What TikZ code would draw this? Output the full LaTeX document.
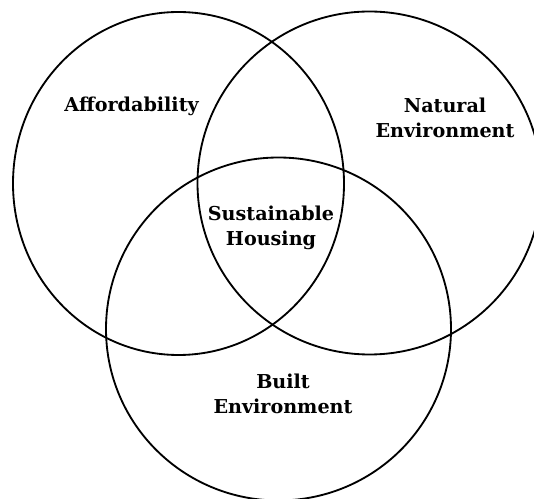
\documentclass[tikz,border=0pt]{standalone}
\usepackage{fontspec}
\setmainfont{DejaVu Serif}
\usetikzlibrary{calc}

\begin{document}
\begin{tikzpicture}[line cap=round,line join=round,x=0.02cm,y=-0.02cm]
    \useasboundingbox (0,0) rectangle (534,499);
    \clip (0,0) rectangle (534,499);

    \tikzset{
        ring/.style={draw=black, line width=1.05pt},
        lbl/.style={align=center, font=\fontsize{10.9}{14.2}\selectfont\bfseries, inner sep=0pt}
    }

    % centres of the three sets
    \coordinate (CA) at (178.5,183.5);
    \coordinate (CN) at (369.5,183);
    \coordinate (CB) at (278.5,329);

    % Circles
    \draw[ring] (CA) ellipse [x radius=165.5, y radius=171.5];
    \draw[ring] (CN) ellipse [x radius=172, y radius=171.5];
    \draw[ring] (CB) ellipse [x radius=172.5, y radius=171.5];

    % Labels
    \draw (131.5,106) node[lbl] (aff) {Affordability};
    \draw (445,118) node[lbl] (nat) {Natural\\Environment};
    \draw (271,228) node[lbl] (sus) {Sustainable\\Housing};
    \draw (283,394) node[lbl] (bui) {Built\\Environment};
\end{tikzpicture}
\end{document}
